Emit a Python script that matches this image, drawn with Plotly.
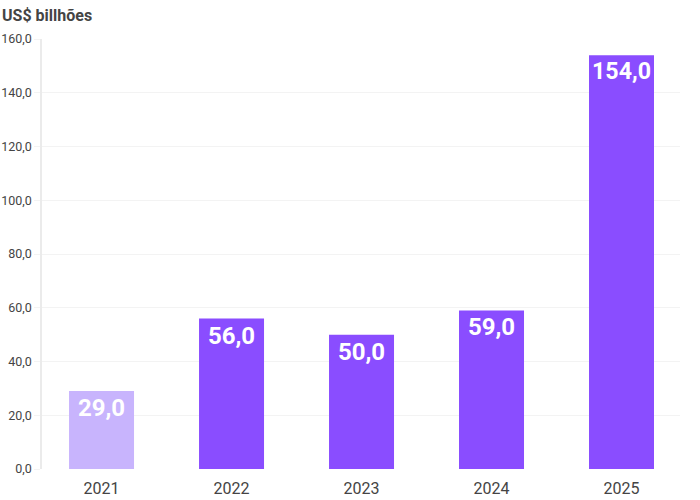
import plotly.graph_objects as go

years = ["2021", "2022", "2023", "2024", "2025"]
values = [29.0, 56.0, 50.0, 59.0, 154.0]
labels = ["29,0", "56,0", "50,0", "59,0", "154,0"]
colors = ["#c8b4fd", "#8a4dff", "#8a4dff", "#8a4dff", "#8a4dff"]
yticks = [0, 20, 40, 60, 80, 100, 120, 140, 160]
yticklabels = ["0,0", "20,0", "40,0", "60,0", "80,0", "100,0", "120,0", "140,0", "160,0"]

fig = go.Figure(go.Bar(
    x=list(range(len(years))), y=values, text=labels,
    marker=dict(color=colors, line=dict(width=0)),
    width=0.5,
    textposition="inside", insidetextanchor="end",
    textangle=0,
    textfont=dict(family="Roboto", size=24, color="white", weight="bold"),
    cliponaxis=False,
))

fig.update_layout(
    width=700, height=500,
    margin=dict(l=42, r=20, t=39, b=31, autoexpand=False),
    paper_bgcolor="white", plot_bgcolor="white",
    font=dict(family="Roboto", color="#444"),
    showlegend=False,
    annotations=[dict(text="<b>US$ billhões</b>", x=0, y=1, xref="paper", yref="paper",
                      xshift=-42, yshift=35, xanchor="left", yanchor="top",
                      showarrow=False, font=dict(size=16, color="#444", family="Roboto"))],
)
fig.update_xaxes(
    range=[-0.458, 4.45], tickvals=list(range(len(years))), ticktext=years,
    tickfont=dict(size=16, color="#444"), showgrid=False, showline=False,
    ticks="", zeroline=False, automargin=False, ticklabelstandoff=8,
)
fig.update_yaxes(
    range=[0, 160], tickvals=yticks, ticktext=yticklabels,
    tickfont=dict(size=12.5, color="#444"), showgrid=True, gridcolor="#f3f3f3",
    showline=True, linecolor="#ebebeb", linewidth=1.5,
    ticks="outside", ticklen=6, tickcolor="#f3f3f3", zeroline=False,
    automargin=False,
)

fig.write_html("out.html", config={"displayModeBar": False},
               post_script="document.body.style.margin='0';")
